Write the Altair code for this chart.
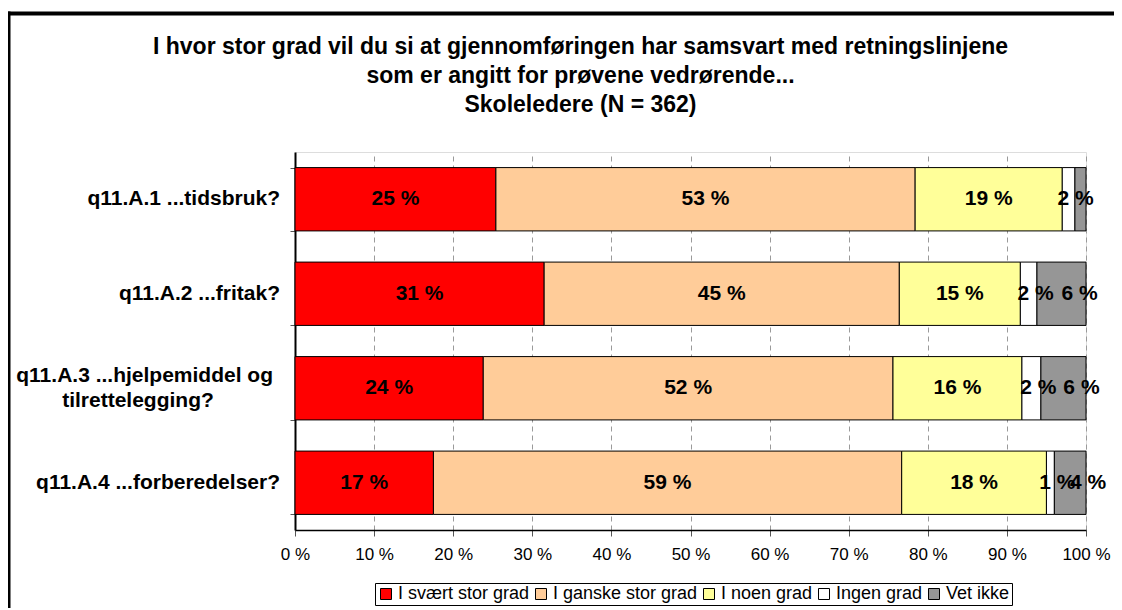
import altair as alt
import pandas as pd

FONT = "Liberation Sans"

questions = [
    "q11.A.1 ...tidsbruk?",
    "q11.A.2 ...fritak?",
    "q11.A.3 ...hjelpemiddel og tilrettelegging?",
    "q11.A.4 ...forberedelser?",
]
# axis label lines for each question (the third one wraps onto two lines)
label_lines = [
    ["q11.A.1 ...tidsbruk?"],
    ["q11.A.2 ...fritak?"],
    ["q11.A.3 ...hjelpemiddel og", "tilrettelegging?"],
    ["q11.A.4 ...forberedelser?"],
]
responses = ["I svært stor grad", "I ganske stor grad", "I noen grad", "Ingen grad", "Vet ikke"]
colors = ["#FF0000", "#FFCC99", "#FFFF99", "#FFFFFF", "#969696"]

svaert = [25.4, 31.5, 23.8, 17.5]
ganske = [53.0, 44.9, 51.8, 59.2]
noen = [18.6, 15.3, 16.3, 18.3]
ingen = [1.6, 2.1, 2.4, 1.0]
vet = [1.4, 6.2, 5.7, 4.0]

lbl_svaert = ["25 %", "31 %", "24 %", "17 %"]
lbl_ganske = ["53 %", "45 %", "52 %", "59 %"]
lbl_noen = ["19 %", "15 %", "16 %", "18 %"]
lbl_ingen = ["2 %", "2 %", "2 %", "1 %"]
lbl_vet = ["", "6 %", "6 %", "4 %"]

title_lines = [
    "I hvor stor grad vil du si at gjennomføringen har samsvart med retningslinjene",
    "som er angitt for prøvene vedrørende...",
    "Skoleledere (N = 362)",
]

series = [svaert, ganske, noen, ingen, vet]
label_series = [lbl_svaert, lbl_ganske, lbl_noen, lbl_ingen, lbl_vet]

rows = []
for qi, q in enumerate(questions):
    cum = 0.0
    for ri, r in enumerate(responses):
        v = series[ri][qi]
        rows.append({
            "question": q, "response": r, "order": ri, "value": v,
            "start": cum, "end": cum + v, "mid": cum + v / 2,
            "label": label_series[ri][qi],
        })
        cum += v
df = pd.DataFrame(rows)

lrows = []
for q, lines in zip(questions, label_lines):
    for li, t in enumerate(lines):
        kind = "single" if len(lines) == 1 else ("first" if li == 0 else "second")
        lrows.append({"question": q, "text": t, "kind": kind})
qdf = pd.DataFrame(lrows)

y_scale = alt.Scale(domain=questions, paddingInner=0.33, paddingOuter=0.165)
y_enc = alt.Y(
    "question:N", sort=questions, scale=y_scale,
    axis=alt.Axis(
        title=None, labels=False, tickBand="extent",
        tickSize=5, tickColor="#555555",
        domainColor="black", domainWidth=2, grid=False,
    ),
)
x_scale = alt.Scale(domain=[0, 100], nice=False)

bars = alt.Chart(df).mark_bar(stroke="black", strokeWidth=1).encode(
    x=alt.X(
        "start:Q", scale=x_scale,
        axis=alt.Axis(
            title=None, values=list(range(0, 101, 10)), labelExpr="datum.value + ' %'",
            labelFont=FONT, labelFontSize=17, labelColor="black", labelPadding=10,
            labelFlush=False, labelOverlap=False,
            tickSize=6, tickColor="#555555", domainColor="black", domainWidth=1.5,
            grid=True, gridColor="#9a9a9a", gridDash=[5, 4], gridWidth=1,
        ),
    ),
    x2="end:Q",
    y=y_enc,
    color=alt.Color(
        "response:N", sort=responses,
        scale=alt.Scale(domain=responses, range=colors),
        legend=alt.Legend(
            title=None, orient="none", legendX=80, legendY=431, direction="horizontal",
            symbolType="square", symbolSize=121, symbolStrokeColor="black", symbolStrokeWidth=1,
            labelFont=FONT, labelFontSize=18, labelColor="black", labelOffset=3,
            columnPadding=2, padding=2, strokeColor="black", fillColor="white",
        ),
    ),
    order=alt.Order("order:Q"),
)

def text_layer(filter_expr, dx):
    return alt.Chart(df).transform_filter(filter_expr).mark_text(
        font=FONT, fontSize=21, fontWeight="bold", color="black", dx=dx, baseline="middle"
    ).encode(x=alt.X("mid:Q", scale=x_scale), y=alt.Y("question:N", sort=questions, scale=y_scale), text="label:N")

t_main = text_layer("datum.order < 3", 0)
t_ingen = text_layer("datum.order == 3", 7)
t_vet = text_layer("datum.order == 4", 18)

def cat_label_layer(kind, align, dx, dy):
    return alt.Chart(qdf).transform_filter(f"datum.kind == '{kind}'").mark_text(
        font=FONT, fontSize=21, fontWeight="bold", color="black", align=align,
        baseline="middle", dx=dx, dy=dy,
    ).encode(x=alt.value(0), y=alt.Y("question:N", sort=questions, scale=y_scale), text="text:N")

cat_single = cat_label_layer("single", "right", -15, 0)
cat_first = cat_label_layer("first", "right", -22, -12.5)
cat_second = cat_label_layer("second", "center", -157, 12.5)

frame_df = pd.DataFrame({"k": [0]})
frame_top = alt.Chart(frame_df).mark_rule(color="black", strokeWidth=4).encode(
    x=alt.value(-288), x2=alt.value(900), y=alt.value(-138.5)
)
frame_left = alt.Chart(frame_df).mark_rule(color="black", strokeWidth=4).encode(
    x=alt.value(-286.5), y=alt.value(-140.5), y2=alt.value(470)
)

chart = alt.layer(
    bars, t_main, t_ingen, t_vet, cat_single, cat_first, cat_second, frame_top, frame_left
).properties(
    width=791, height=378,
    autosize=alt.AutoSizeParams(type="none"),
    padding={"left": 287, "top": 144, "right": 28, "bottom": 78},
    title=alt.TitleParams(
        text=title_lines, font=FONT, fontSize=23, fontWeight="bold", color="black",
        anchor="middle", dx=-110, dy=143, offset=36, lineHeight=29,
    ),
).configure_view(stroke="#555555", strokeWidth=1).configure(background="white")

chart.save("out.html", embed_options={"renderer": "svg", "actions": False})
